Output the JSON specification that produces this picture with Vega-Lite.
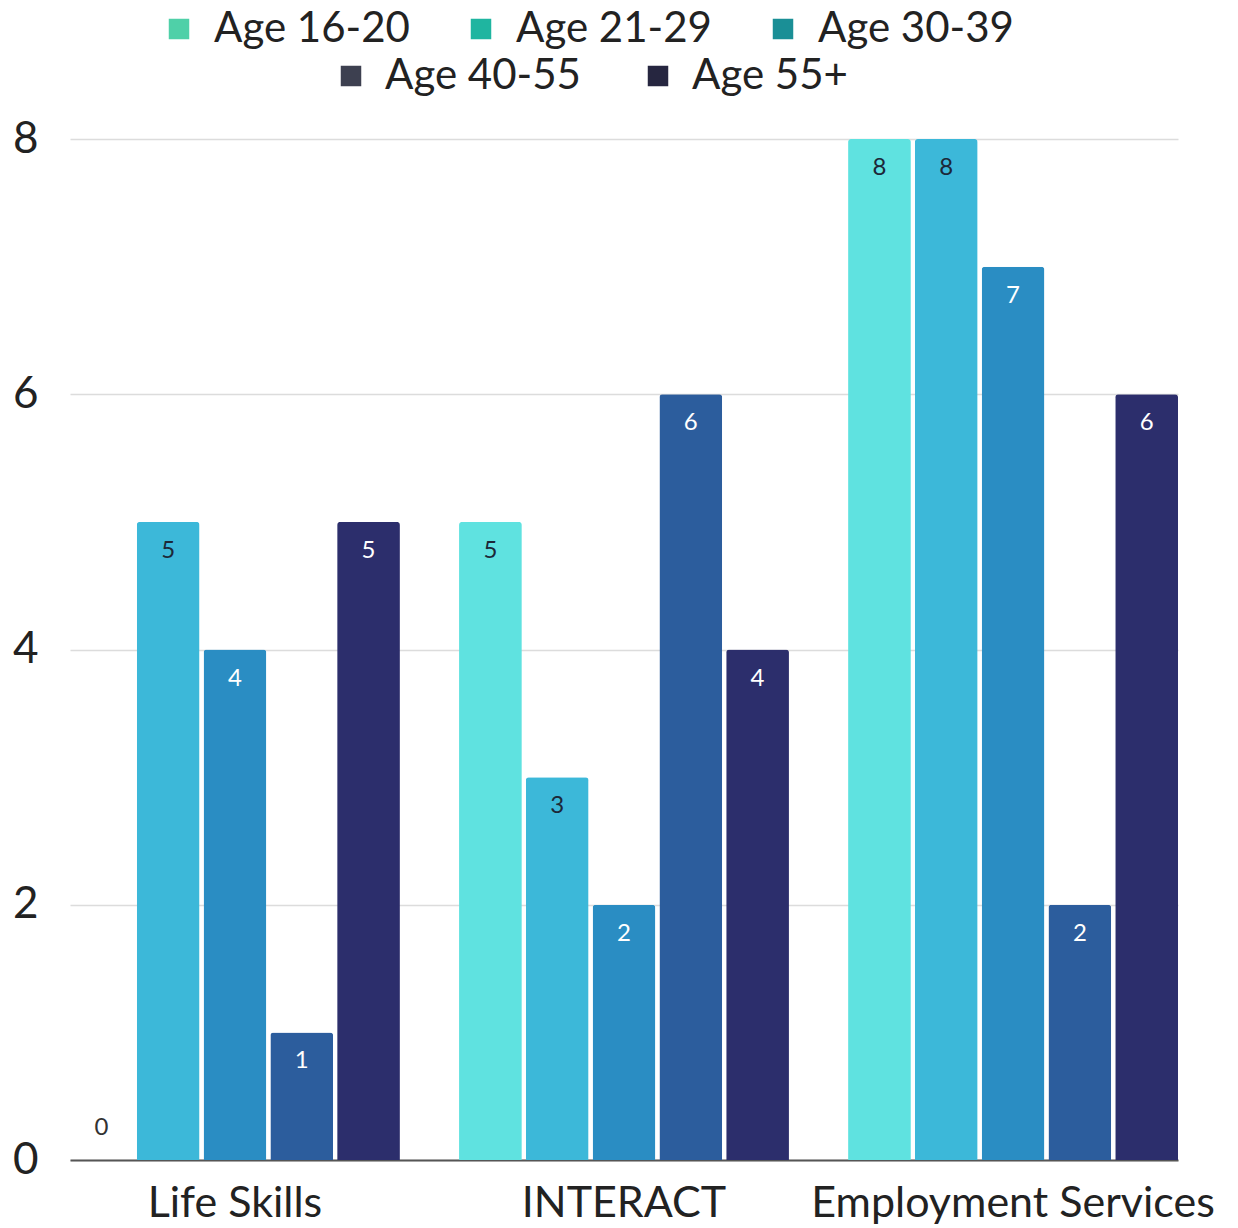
{
  "$schema": "https://vega.github.io/schema/vega-lite/v6.json",
  "autosize": {"type": "none"},
  "width": 1108,
  "height": 1021,
  "padding": {"left": 70, "top": 139, "right": 60, "bottom": 68},
  "background": "white",
  "config": {
    "font": "Lato",
    "view": {"stroke": null},
    "legend": {"padding": 0}
  },
  "resolve": {"scale": {"fill": "independent"}, "legend": {"fill": "independent"}},
  "data": {
    "values": [
      {"program": "Life Skills", "age": "Age 16-20", "value": 0},
      {"program": "Life Skills", "age": "Age 21-29", "value": 5},
      {"program": "Life Skills", "age": "Age 30-39", "value": 4},
      {"program": "Life Skills", "age": "Age 40-55", "value": 1},
      {"program": "Life Skills", "age": "Age 55+", "value": 5},
      {"program": "INTERACT", "age": "Age 16-20", "value": 5},
      {"program": "INTERACT", "age": "Age 21-29", "value": 3},
      {"program": "INTERACT", "age": "Age 30-39", "value": 2},
      {"program": "INTERACT", "age": "Age 40-55", "value": 6},
      {"program": "INTERACT", "age": "Age 55+", "value": 4},
      {"program": "Employment Services", "age": "Age 16-20", "value": 8},
      {"program": "Employment Services", "age": "Age 21-29", "value": 8},
      {"program": "Employment Services", "age": "Age 30-39", "value": 7},
      {"program": "Employment Services", "age": "Age 40-55", "value": 2},
      {"program": "Employment Services", "age": "Age 55+", "value": 6}
    ]
  },
  "encoding": {
    "x": {
      "field": "program", "type": "nominal", "sort": null,
      "scale": {"paddingInner": 0.152, "paddingOuter": 0},
      "axis": {
        "title": null, "labelAngle": 0, "labelFontSize": 43, "labelColor": "#222222",
        "labelPadding": 22, "ticks": false, "domain": true, "domainColor": "#555555",
        "domainWidth": 2, "labelFont": "Lato", "labelLimit": 600
      }
    },
    "xOffset": {
      "field": "age", "type": "nominal", "sort": null,
      "scale": {"paddingInner": 0.06, "paddingOuter": 0}
    },
    "y": {
      "field": "value", "type": "quantitative",
      "scale": {"domain": [0, 8]},
      "axis": {
        "title": null, "values": [0, 2, 4, 6, 8], "labelFontSize": 44, "labelColor": "#222222",
        "labelPadding": 32, "ticks": false, "domain": false, "gridColor": "#dcdcdc",
        "gridWidth": 1.5, "labelFont": "Lato"
      }
    }
  },
  "layer": [
    {
      "mark": {"type": "bar", "cornerRadiusTopLeft": 3, "cornerRadiusTopRight": 3},
      "encoding": {
        "color": {
          "field": "age", "type": "nominal", "sort": null,
          "scale": {
            "domain": ["Age 16-20", "Age 21-29", "Age 30-39", "Age 40-55", "Age 55+"],
            "range": ["#5fe2e0", "#3cb8d9", "#2a8dc3", "#2c5d9d", "#2c2e6c"]
          },
          "legend": null
        }
      }
    },
    {
      "transform": [{"filter": "datum.value < 0"}],
      "mark": {"type": "bar"},
      "encoding": {
        "fill": {
          "field": "age", "type": "nominal",
          "scale": {
            "domain": ["Age 16-20", "Age 21-29", "Age 30-39"],
            "range": ["#4fd0a8", "#1fb5a0", "#1a8f96"]
          },
          "legend": {
            "orient": "none", "legendX": 88, "legendY": -131, "direction": "horizontal",
            "title": null, "symbolType": "square", "symbolSize": 420, "symbolStrokeWidth": 0,
            "labelFontSize": 42, "labelColor": "#222222", "labelOffset": 14, "columnPadding": 50,
            "labelFont": "Lato", "labelLimit": 400
          }
        }
      }
    },
    {
      "transform": [{"filter": "datum.value < 0"}],
      "mark": {"type": "bar"},
      "encoding": {
        "fill": {
          "field": "age", "type": "nominal",
          "scale": {
            "domain": ["Age 40-55", "Age 55+"],
            "range": ["#3d4050", "#262640"]
          },
          "legend": {
            "orient": "none", "legendX": 260, "legendY": -84, "direction": "horizontal",
            "title": null, "symbolType": "square", "symbolSize": 420, "symbolStrokeWidth": 0,
            "labelFontSize": 42, "labelColor": "#222222", "labelOffset": 13,
            "columnPadding": 56, "labelFont": "Lato", "labelLimit": 400
          }
        }
      }
    },
    {
      "transform": [{"filter": "datum.value > 0"}],
      "mark": {"type": "text", "dy": 29, "baseline": "middle", "fontSize": 24, "font": "Lato"},
      "encoding": {
        "text": {"field": "value", "type": "quantitative"},
        "color": {
          "condition": {"test": "datum.age == 'Age 16-20' || datum.age == 'Age 21-29'", "value": "#1c2838"},
          "value": "#ffffff"
        }
      }
    },
    {
      "transform": [{"filter": "datum.value == 0"}],
      "mark": {"type": "text", "dy": -32, "baseline": "middle", "fontSize": 24, "font": "Lato", "color": "#333333"},
      "encoding": {
        "text": {"field": "value", "type": "quantitative"}
      }
    }
  ]
}
